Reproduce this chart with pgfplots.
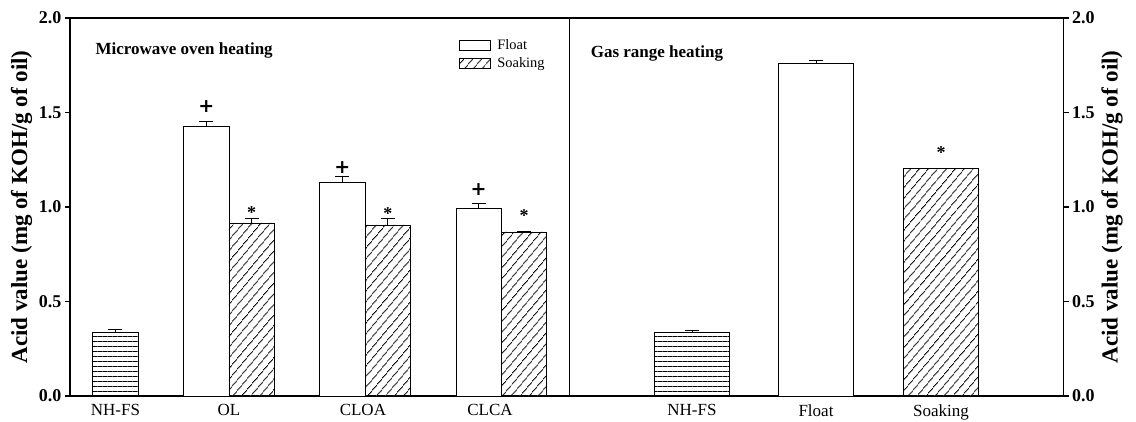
\documentclass[border=0pt]{standalone}
\usepackage{fontspec}
\setmainfont{Liberation Serif}
\newfontfamily\dejavu{DejaVu Sans}
\usepackage{pgfplots}
\pgfplotsset{compat=1.18}
\usetikzlibrary{patterns.meta}

\pgfplotsset{
  common/.style={
    scale only axis,
    height=378pt,
    ymin=0, ymax=2,
    ytick={0,0.5,1,1.5,2},
    /pgf/number format/assume math mode=true,
    yticklabel style={font=\fontsize{18}{18}\selectfont\bfseries},
    yticklabel={\textbf{\pgfmathprintnumber[fixed,fixed zerofill,precision=1]{\tick}}},
    tick align=outside,
    major tick length=5pt,
    every tick/.style={black,line width=1.2pt},
    axis line style={line width=1.5pt},
    xticklabel style={font=\fontsize{17}{18}\selectfont},
    major x tick style={draw=none},
    ylabel={\textbf{Acid value (mg of KOH/g of oil)}},
    ylabel style={font=\fontsize{23}{24}\selectfont},
    legend image code/.code={\draw[#1,line width=0.6pt] (0pt,-5pt) rectangle (31pt,5pt);},
    clip=false,
  },
  barf/.style={ybar, bar shift=0pt, draw=black, line width=0.7pt, fill=white,
    error bars/y dir=plus, error bars/y explicit,
    error bars/error bar style={line width=0.9pt,black},
    error bars/error mark options={black, rotate=90, mark size=7pt, line width=0.9pt}},
  hatch/.style={pattern={Lines[angle=50,distance=6.5pt,line width=0.8pt]}, pattern color=black},
  horiz/.style={pattern={Lines[angle=0,distance=5pt,line width=0.7pt]}, pattern color=black},
}
\newcommand{\plusnode}{\node[font=\dejavu\fontsize{19}{19}\selectfont\bfseries]}
\newcommand{\starnode}{\node[font=\fontsize{18}{18}\selectfont\bfseries]}

\begin{document}
\begin{tikzpicture}[x=1pt,y=1pt]
\useasboundingbox (0,0) rectangle (1136,421);

% ---------- left panel ----------
\begin{axis}[common,
  at={(70pt,25pt)}, anchor=south west,
  width=499.5pt,
  xmin=0, xmax=11,
  xtick={1,3.5,6.45,9.25},
  xticklabels={NH-FS,OL,CLOA,CLCA},
  ytick pos=left,
  bar width=1,
  legend cell align=left,
  legend style={draw=none, fill=none, at={(0.772,0.955)}, anchor=north west,
    font=\fontsize{14.4}{16}\selectfont, row sep=3pt,
    /tikz/every odd column/.append style={column sep=5pt}},
]
\addlegendimage{draw=black, fill=white}
\addlegendentry{Float}
\addlegendimage{draw=black, hatch}
\addlegendentry{Soaking}

\addplot[barf, forget plot, horiz] coordinates {(1,0.337) +- (0,0.014)};
\addplot[barf, forget plot] coordinates {(3,1.425) +- (0,0.030) (6,1.128) +- (0,0.034) (9,0.995) +- (0,0.024)};
\addplot[barf, forget plot, hatch] coordinates {(4,0.916) +- (0,0.021) (7,0.905) +- (0,0.035) (10,0.868) +- (0,0.005)};

\plusnode at (axis cs:3,1.534) {+};
\plusnode at (axis cs:6,1.209) {+};
\plusnode at (axis cs:9,1.091) {+};
\starnode at (axis cs:4,0.972) {*};
\starnode at (axis cs:7,0.967) {*};
\starnode at (axis cs:10,0.955) {*};
\node[anchor=west, font=\fontsize{17}{18}\selectfont\bfseries] at (rel axis cs:0.044,0.915) {Microwave oven heating};
\end{axis}

% ---------- right panel ----------
\begin{axis}[common,
  at={(569.5pt,25pt)}, anchor=south west,
  width=494pt,
  xmin=0, xmax=494,
  xtick={122.5,246.5,371.5},
  xticklabels={NH-FS,Float,Soaking},
  ytick pos=right,
  yticklabel pos=right,
  bar width=75,
]
\addplot[barf, horiz] coordinates {(122.5,0.335) +- (0,0.012)};
\addplot[barf] coordinates {(246.5,1.759) +- (0,0.016)};
\addplot[barf, hatch] coordinates {(371.5,1.202) +- (0,0.004)};
\starnode at (axis cs:371.5,1.29) {*};
\node[anchor=west, font=\fontsize{17}{18}\selectfont\bfseries] at (rel axis cs:0.036,0.905) {Gas range heating};
\end{axis}
\end{tikzpicture}
\end{document}
